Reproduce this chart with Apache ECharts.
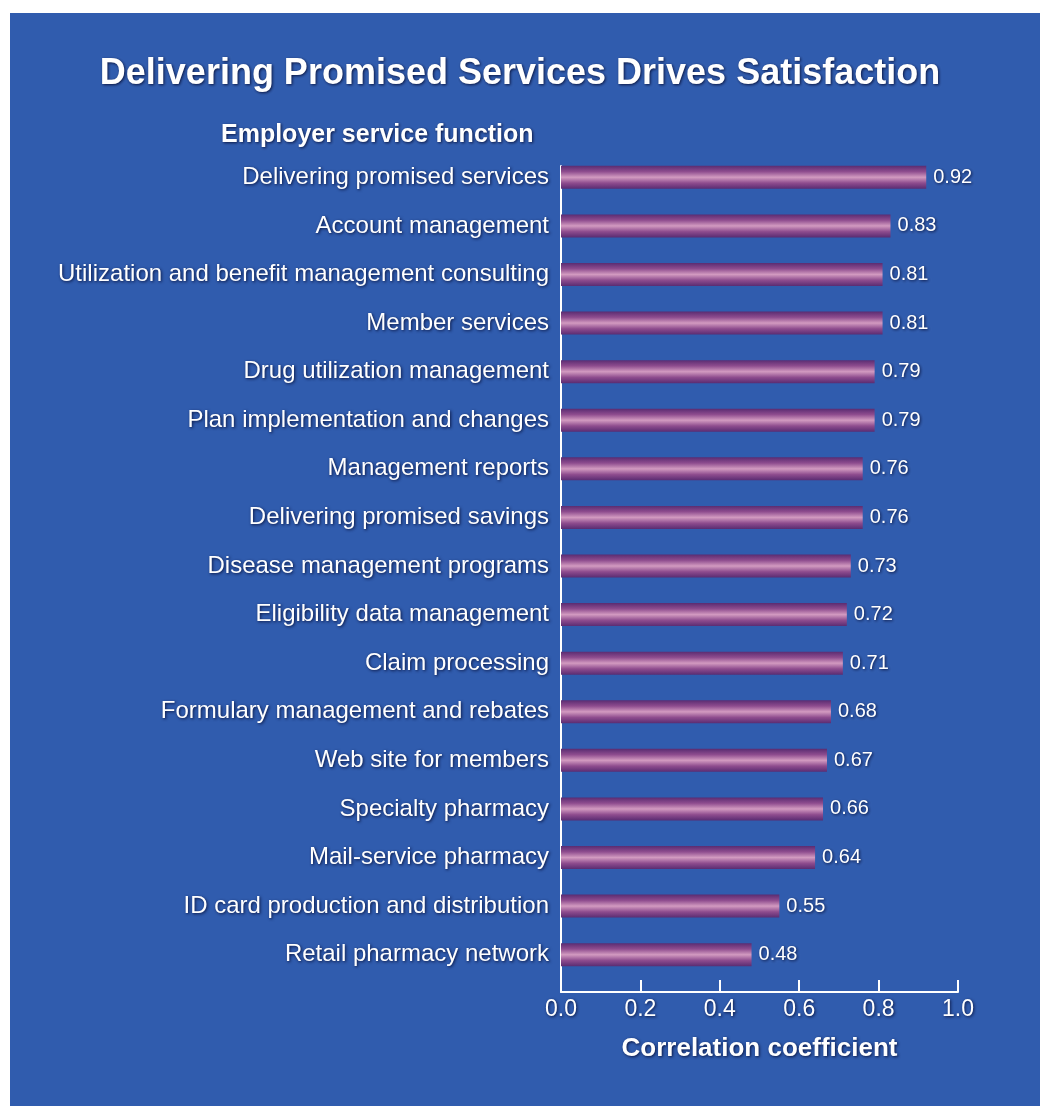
<!DOCTYPE html>
<html>
<head>
<meta charset="utf-8">
<script src="https://cdn.jsdelivr.net/npm/echarts@6/dist/echarts.min.js"></script>
<style>
html,body{margin:0;padding:0;background:#ffffff;}
#chart{width:1040px;height:1111px;}
</style>
</head>
<body>
<div id="chart"></div>
<script>
const titleText = 'Delivering Promised Services Drives Satisfaction';
const subtitleText = 'Employer service function';
const axisName = 'Correlation coefficient';
const categories = [
  'Delivering promised services',
  'Account management',
  'Utilization and benefit management consulting',
  'Member services',
  'Drug utilization management',
  'Plan implementation and changes',
  'Management reports',
  'Delivering promised savings',
  'Disease management programs',
  'Eligibility data management',
  'Claim processing',
  'Formulary management and rebates',
  'Web site for members',
  'Specialty pharmacy',
  'Mail-service pharmacy',
  'ID card production and distribution',
  'Retail pharmacy network'
];
const values = [0.92, 0.83, 0.81, 0.81, 0.79, 0.79, 0.76, 0.76, 0.73, 0.72, 0.71, 0.68, 0.67, 0.66, 0.64, 0.55, 0.48];
const xTicks = [0.0, 0.2, 0.4, 0.6, 0.8, 1.0];

const FONT = '"Liberation Sans", Arial, Helvetica, sans-serif';
const shadow = {textShadowColor: 'rgba(8,18,60,0.95)', textShadowBlur: 3, textShadowOffsetX: 1, textShadowOffsetY: 1};

const chart = echarts.init(document.getElementById('chart'), null, {renderer: 'canvas'});
chart.setOption({
  backgroundColor: '#ffffff',
  animation: false,
  graphic: [{
    type: 'rect', z: -10, silent: true,
    shape: {x: 10, y: 13, width: 1030, height: 1093},
    style: {fill: '#305cae'}
  }],
  title: [{
    text: titleText, left: 'center', top: 51,
    textStyle: Object.assign({color: '#ffffff', fontFamily: FONT, fontWeight: 'bold', fontSize: 36}, shadow)
  }, {
    text: subtitleText, left: 216, top: 118,
    textStyle: Object.assign({color: '#ffffff', fontFamily: FONT, fontWeight: 'bold', fontSize: 25}, shadow)
  }],
  grid: [
    {left: 561, right: 82, top: 153, bottom: 132},
    {left: 561, right: 82, top: 166, bottom: 119}
  ],
  xAxis: [{
    gridIndex: 0, type: 'value', min: 0, max: 1, show: false
  }, {
    gridIndex: 1, type: 'value', min: 0, max: 1, interval: 0.2,
    axisLine: {show: true, lineStyle: {color: '#ffffff', width: 2}},
    axisTick: {show: true, inside: true, length: 12, lineStyle: {color: '#ffffff', width: 2}},
    splitLine: {show: false},
    axisLabel: Object.assign({
      color: '#ffffff', fontFamily: FONT, fontSize: 23, margin: 6,
      formatter: function (v) { const t = xTicks.find(x => Math.abs(x - v) < 1e-9); return t === undefined ? '' : t.toFixed(1); }
    }, shadow),
    name: axisName, nameLocation: 'middle', nameGap: 44,
    nameTextStyle: Object.assign({color: '#ffffff', fontFamily: FONT, fontWeight: 'bold', fontSize: 26}, shadow)
  }],
  yAxis: [{
    gridIndex: 0, type: 'category', data: categories, inverse: true,
    axisLine: {show: false}, axisTick: {show: false}, splitLine: {show: false},
    axisLabel: Object.assign({color: '#ffffff', fontFamily: FONT, fontSize: 24, margin: 12}, shadow)
  }, {
    gridIndex: 1, type: 'value', min: 0, max: 1,
    axisLine: {show: true, lineStyle: {color: '#ffffff', width: 2}},
    axisTick: {show: false}, axisLabel: {show: false}, splitLine: {show: false}
  }],
  series: [{
    type: 'bar', xAxisIndex: 0, yAxisIndex: 0, data: values,
    barWidth: 23,
    itemStyle: {
      color: new echarts.graphic.LinearGradient(0, 0, 0, 1, [
        {offset: 0, color: '#5a2c72'},
        {offset: 0.25, color: '#8e4c8e'},
        {offset: 0.5, color: '#d29ac0'},
        {offset: 0.75, color: '#8e4c8e'},
        {offset: 1, color: '#5a2c72'}
      ])
    },
    label: Object.assign({
      show: true, position: 'right', distance: 7, color: '#ffffff', fontFamily: FONT, fontSize: 20,
      formatter: function (p) { return p.value.toFixed(2); }
    }, shadow)
  }]
});
</script>
</body>
</html>
